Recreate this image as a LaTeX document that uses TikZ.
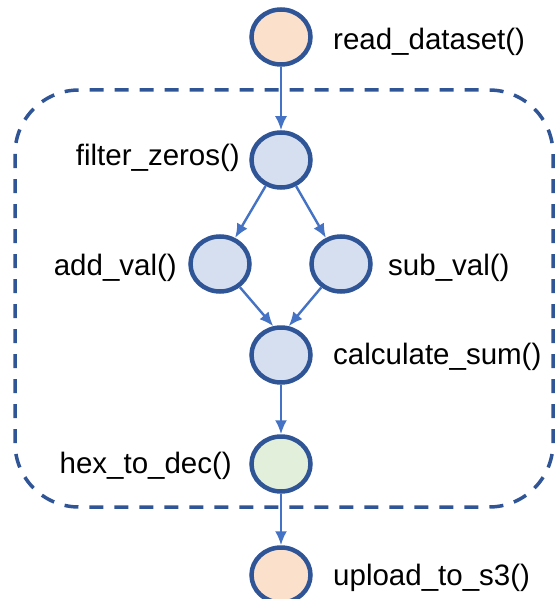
\documentclass[tikz,border=0pt]{standalone}
\usepackage{fontspec}
\setmainfont{Liberation Sans}
\usetikzlibrary{arrows.meta,shapes.geometric}

\definecolor{ringblue}{HTML}{2F5597}
\definecolor{arrowblue}{HTML}{4472C4}
\definecolor{peach}{HTML}{FBE0CC}
\definecolor{paleblue}{HTML}{D6DFF0}
\definecolor{palegreen}{HTML}{E2EFDA}

\begin{document}
\begin{tikzpicture}
 [
  x=1pt, y=-1pt,
  >={Latex[length=14pt,width=12pt]},
  task/.style    = {draw=ringblue, ellipse, line width=4.5pt, minimum width=59pt, minimum height=55pt, inner sep=0pt},
  io/.style      = {task, fill=peach},
  calc/.style    = {task, fill=paleblue},
  conv/.style    = {task, fill=palegreen},
  tasktext/.style = {font=\fontsize{29.5}{34}\selectfont, text=black, inner sep=0pt},
  flow/.style    = {->, draw=arrowblue, line width=2.4pt},
 ]
 \useasboundingbox (0,0) rectangle (555,599);

 % dashed group around the middle tasks
 \draw[ringblue, line width=3.5pt, dash pattern=on 14pt off 11pt, rounded corners=64pt]
  (15,90) rectangle (553,507);

 \node[io]   (read)   at (281,37)  {};
 \node[calc] (filter) at (281,160) {};
 \node[calc] (add)    at (220,264) {};
 \node[calc] (sub)    at (341,264) {};
 \node[calc] (sum)    at (281,355) {};
 \node[conv] (hex)    at (281,464) {};
 \node[io]   (upload) at (281,575) {};

 \node[tasktext, anchor=west] (l-read)   at (333,42)  {read\_dataset()};
 \node[tasktext, anchor=east] (l-filter) at (240,158) {filter\_zeros()};
 \node[tasktext, anchor=east] (l-add)    at (177,268) {add\_val()};
 \node[tasktext, anchor=west] (l-sub)    at (388,268) {sub\_val()};
 \node[tasktext, anchor=west] (l-sum)    at (333,357) {calculate\_sum()};
 \node[tasktext, anchor=east] (l-hex)    at (232,466) {hex\_to\_dec()};
 \node[tasktext, anchor=west] (l-upload) at (333,578) {upload\_to\_s3()};

 \draw[flow] (read) -- (filter);
 \draw[flow] (filter) -- (add.60);
 \draw[flow] (filter) -- (sub.120);
 \draw[flow] (add) -- (sum.105);
 \draw[flow] (sub) -- (sum.75);
 \draw[flow] (sum) -- (hex);
 \draw[flow] (hex) -- (upload);
\end{tikzpicture}
\end{document}
